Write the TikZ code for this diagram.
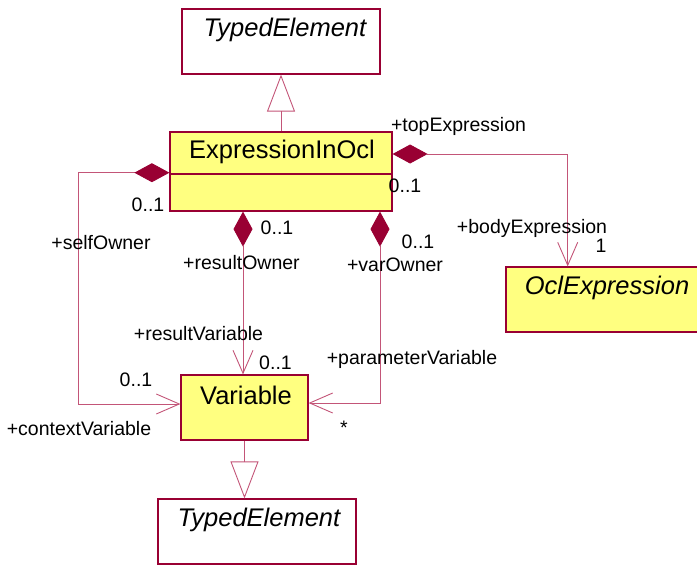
\documentclass[tikz,border=0pt]{standalone}
\usepackage{fontspec}
\setmainfont{Liberation Sans}
\usetikzlibrary{arrows.meta}
\definecolor{umlred}{RGB}{153,0,51}
\definecolor{umlline}{RGB}{195,85,120}
\definecolor{umlyellow}{RGB}{255,255,128}
\tikzset{
 classbox/.style={draw=umlred, line width=1.2pt, rectangle, inner sep=0pt},
 yellowbox/.style={classbox, fill=umlyellow},
 classname/.style={font=\fontsize{25.5}{28}\selectfont, inner sep=0pt},
 abstractname/.style={font=\fontsize{25.5}{28}\selectfont\itshape, inner sep=0pt},
 rolelabel/.style={font=\fontsize{19.5}{22}\selectfont, inner sep=0pt, text=black},
 conn/.style={draw=umlline, line width=0.9pt},
 compos/.style={conn, {Diamond[length=35pt,width=19pt,fill=umlred,color=umlred]}-{Straight Barb[length=23pt,width=20pt]}},
 gener/.style={conn, -{Triangle[open,length=37pt,width=28pt]}}
}
\begin{document}
\begin{tikzpicture}[x=1pt,y=-1pt]
\useasboundingbox (0,0) rectangle (697,566);
% classes
\node[classbox, minimum width=198pt, minimum height=65pt] (typed1) at (281,41.5) {};
\node[abstractname] (typed1name) at (285,30) {TypedElement};
\node[yellowbox, minimum width=222pt, minimum height=79pt] (expr) at (281,171.5) {};
\node[classname] (exprname) at (282,152) {ExpressionInOcl};
\coordinate (dv) at (0,174);
\draw[umlred, line width=1.2pt] (expr.west |- dv) -- (expr.east |- dv);
\node[yellowbox, minimum width=200pt, minimum height=65pt] (ocl) at (606,299.5) {};
\node[abstractname] (oclname) at (607,288) {OclExpression};
\node[yellowbox, minimum width=127pt, minimum height=65pt] (var) at (244.5,407.5) {};
\node[classname] (varname) at (246,395) {Variable};
\node[classbox, minimum width=198pt, minimum height=65pt] (typed2) at (257,531.5) {};
\node[abstractname] (typed2name) at (259,520) {TypedElement};
% generalizations
\draw[gener] (expr.north) -- (typed1.south);
\draw[gener] (var.south) -- (typed2.north -| var.south);
% compositions
\coordinate (rx) at (243,0);
\coordinate (vx) at (380,0);
\coordinate (tx) at (567.7,0);
\draw[compos] ([yshift=-1.2pt]expr.west) -- ++(-91,0) |- ([yshift=3.5pt]var.west);
\draw[compos] (expr.south -| rx) -- (var.north -| rx);
\draw[compos] (expr.south -| vx) |- ([yshift=4.5pt]var.east);
\draw[compos] ([yshift=17.5pt]expr.east) -| (ocl.north -| tx);
% labels
\node[rolelabel] (l1) at (458.5,126) {+topExpression};
\node[rolelabel] (l2) at (405,186) {0..1};
\node[rolelabel] (l3) at (532,228) {+bodyExpression};
\node[rolelabel] (l4) at (601,246) {1};
\node[rolelabel] (l5) at (148,205) {0..1};
\node[rolelabel] (l6) at (101,243) {+selfOwner};
\node[rolelabel] (l7) at (277,228) {0..1};
\node[rolelabel] (l8) at (241.5,263) {+resultOwner};
\node[rolelabel] (l9) at (418,242) {0..1};
\node[rolelabel] (l10) at (395,265) {+varOwner};
\node[rolelabel] (l11) at (198.5,334) {+resultVariable};
\node[rolelabel] (l12) at (275.5,363) {0..1};
\node[rolelabel] (l13) at (412,359) {+parameterVariable};
\node[rolelabel] (l14) at (136,380) {0..1};
\node[rolelabel] (l15) at (79,429) {+contextVariable};
\node[rolelabel] (l16) at (344,428) {*};
\end{tikzpicture}
\end{document}
